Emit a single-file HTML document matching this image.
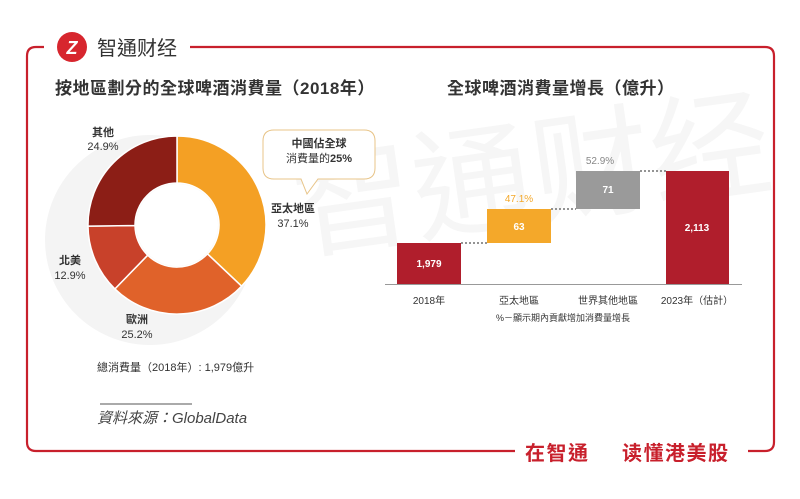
<!DOCTYPE html>
<html><head><meta charset="utf-8"><style>
html,body{margin:0;padding:0;background:#fff;}
svg text{font-family:"Liberation Sans","Noto Sans CJK TC",sans-serif;}
</style></head><body>
<svg width="800" height="494" viewBox="0 0 800 494" xmlns="http://www.w3.org/2000/svg">
<rect width="800" height="494" fill="#fff"/>
<path d="M44 47 H36 Q27 47 27 56 V442 Q27 451 36 451 H515" fill="none" stroke="#c8202c" stroke-width="2.2"/>
<path d="M190 47 H765 Q774 47 774 56 V442 Q774 451 765 451 H748" fill="none" stroke="#c8202c" stroke-width="2.2"/>
<circle cx="72" cy="47" r="15" fill="#d7262e"/>
<text x="72" y="54" font-size="18" font-weight="bold" fill="#fff" text-anchor="middle" font-style="italic">Z</text>
<text x="97" y="55" font-size="20" fill="#333">智通财经</text>
<circle cx="150" cy="240" r="105" fill="#f4f4f4"/>
<text x="300" y="250" font-size="120" fill="#f6f6f6" transform="rotate(-8 300 250)">智通财经</text>
<text x="55" y="94" font-size="17" font-weight="bold" fill="#333" letter-spacing="0.5">按地區劃分的全球啤酒消費量（2018年）</text>
<text x="447" y="94" font-size="17" font-weight="bold" fill="#333" letter-spacing="0.5">全球啤酒消費量增長（億升）</text>
<g stroke="#fff" stroke-width="1.5">
<path d="M177 136 A89 89 0 0 1 241.6 286.2 L207.5 253.9 A42 42 0 0 0 177 183 Z" fill="#f4a024"/>
<path d="M241.6 286.2 A89 89 0 0 1 114.9 288.9 L147.7 255.2 A42 42 0 0 0 207.5 253.9 Z" fill="#e0622a"/>
<path d="M114.9 288.9 A89 89 0 0 1 88 226.1 L135 225.5 A42 42 0 0 0 147.7 255.2 Z" fill="#c8412a"/>
<path d="M88 226.1 A89 89 0 0 1 177 136 L177 183 A42 42 0 0 0 135 225.5 Z" fill="#8c1e16"/>
</g>
<circle cx="177" cy="225" r="41" fill="#fff"/>
<g font-size="11" fill="#333" text-anchor="middle">
<text x="103" y="136" font-weight="bold">其他</text><text x="103" y="150">24.9%</text>
<text x="70" y="264" font-weight="bold">北美</text><text x="70" y="279">12.9%</text>
<text x="137" y="323" font-weight="bold">歐洲</text><text x="137" y="338">25.2%</text>
<text x="293" y="212" font-weight="bold">亞太地區</text><text x="293" y="227">37.1%</text>
</g>
<path d="M274 130 H364 Q375 130 375 141 V168 Q375 179 364 179 H318 L307 194 L301 179 H274 Q263 179 263 168 V141 Q263 130 274 130 Z" fill="#fff" stroke="#e8c488" stroke-width="1"/>
<text x="319" y="147" font-size="11" fill="#333" text-anchor="middle" font-weight="bold">中國佔全球</text>
<text x="319" y="162" font-size="11" fill="#333" text-anchor="middle">消費量的<tspan font-weight="bold">25%</tspan></text>
<text x="97" y="371" font-size="11" fill="#333">總消費量（2018年）: 1,979億升</text>
<line x1="100" y1="404" x2="192" y2="404" stroke="#555" stroke-width="1"/>
<text x="97" y="423" font-size="15" fill="#444" font-style="italic">資料來源：GlobalData</text>
<rect x="397" y="243" width="64" height="41" fill="#b01e2c"/>
<rect x="487" y="209" width="64" height="34" fill="#f4a82a"/>
<rect x="576" y="171" width="64" height="38" fill="#9a9a9a"/>
<rect x="666" y="171" width="63" height="113" fill="#b01e2c"/>
<g stroke="#555" stroke-width="1.3" stroke-dasharray="2,2">
<line x1="461" y1="243" x2="487" y2="243"/>
<line x1="551" y1="209" x2="576" y2="209"/>
<line x1="640" y1="171" x2="666" y2="171"/>
</g>
<line x1="385" y1="284.5" x2="742" y2="284.5" stroke="#999" stroke-width="1"/>
<g font-size="10" text-anchor="middle">
<text x="429" y="267" fill="#fff" font-weight="bold">1,979</text>
<text x="519" y="230" fill="#fff" font-weight="bold">63</text>
<text x="608" y="193" fill="#fff" font-weight="bold">71</text>
<text x="697" y="231" fill="#fff" font-weight="bold">2,113</text>
<text x="519" y="202" fill="#f4a82a">47.1%</text>
<text x="600" y="164" fill="#888">52.9%</text>
<text x="429" y="304" fill="#333">2018年</text>
<text x="519" y="304" fill="#333">亞太地區</text>
<text x="608" y="304" fill="#333">世界其他地區</text>
<text x="697" y="304" fill="#333">2023年（估計）</text>
<text x="563" y="321" fill="#333" font-size="9">%－顯示期內貢獻增加消費量增長</text>
</g>
<text x="525" y="460" font-size="20" font-weight="bold" fill="#c8202c" letter-spacing="1.5">在智通</text>
<text x="622" y="460" font-size="20" font-weight="bold" fill="#c8202c" letter-spacing="1.5">读懂港美股</text>
</svg>
</body></html>
